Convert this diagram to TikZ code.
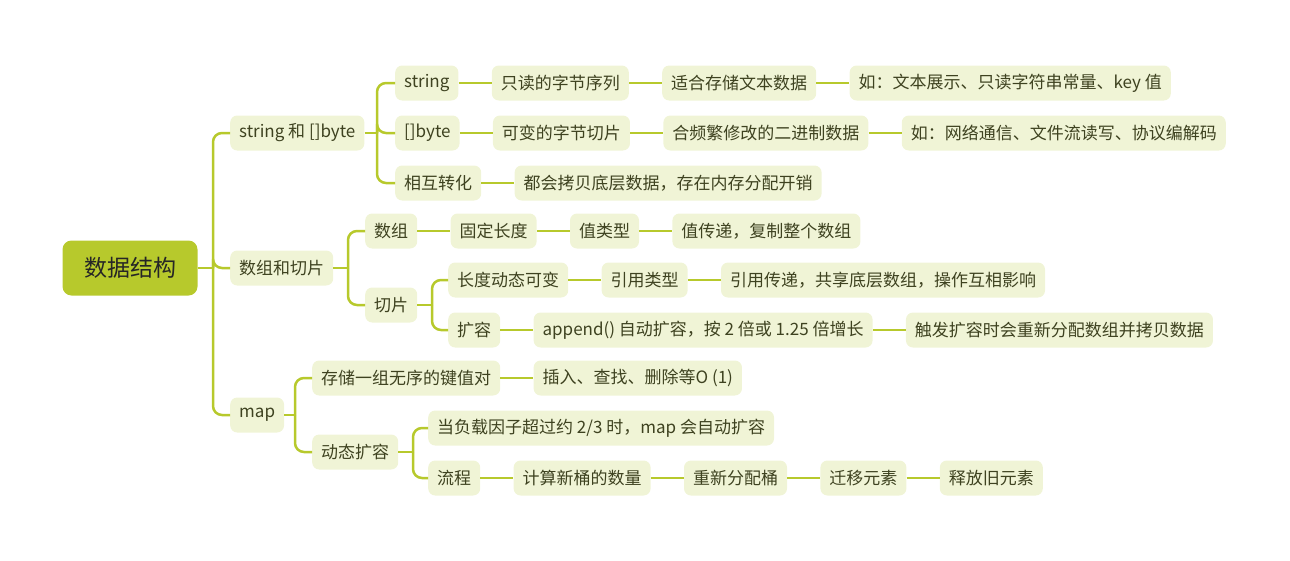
\documentclass[tikz,border=0pt]{standalone}
\usepackage{fontspec}
\setmainfont{Noto Sans CJK SC}
\usetikzlibrary{positioning}
\definecolor{linec}{HTML}{B7C92C}
\definecolor{nodef}{HTML}{F0F4D6}
\definecolor{txt}{HTML}{3E4220}
\begin{document}
\begin{tikzpicture}[x=1pt,y=-1pt,
  box/.style={fill=nodef, rounded corners=7pt, minimum height=35pt, inner xsep=9pt, inner ysep=0pt, text=txt, font=\fontsize{17}{20}\selectfont, anchor=west},
  rootbox/.style={fill=linec, rounded corners=9pt, minimum height=55pt, minimum width=135pt, text=black!85, font=\fontsize{23}{27}\selectfont},
  conn/.style={draw=linec, line width=2.5pt},
  br/.style={conn, rounded corners=9pt},
  node distance=33pt]
\useasboundingbox (0,0) rectangle (1290,560);
% root
\node[rootbox] (root) at (130,268) {数据结构};
% level 1
\node[box] (a1) at (230,133) {string 和 []byte};
\node[box] (a2) at (230,268) {数组和切片};
\node[box] (a3) at (230,415) {map};
% string group
\node[box] (b1) at (395,83) {string};
\node[box] (b2) at (395,133) {[]byte};
\node[box] (b3) at (395,183) {相互转化};
\node[box, right=of b1] (c1) {只读的字节序列};
\node[box, right=of c1] (d1) {适合存储文本数据};
\node[box, right=of d1] (e1) {如：文本展示、只读字符串常量、key 值};
\node[box, right=of b2] (c2) {可变的字节切片};
\node[box, right=of c2] (d2) {合频繁修改的二进制数据};
\node[box, right=of d2] (e2) {如：网络通信、文件流读写、协议编解码};
\node[box, right=of b3] (c3) {都会拷贝底层数据，存在内存分配开销};
% array group
\node[box] (f1) at (365,231) {数组};
\node[box] (f2) at (365,305) {切片};
\node[box, right=of f1] (g1) {固定长度};
\node[box, right=of g1] (g2) {值类型};
\node[box, right=of g2] (g3) {值传递，复制整个数组};
\node[box] (h1) at (448,280) {长度动态可变};
\node[box] (h2) at (448,330) {扩容};
\node[box, right=of h1] (i1) {引用类型};
\node[box, right=of i1] (i2) {引用传递，共享底层数组，操作互相影响};
\node[box, right=of h2] (j1) {append() 自动扩容，按 2 倍或 1.25 倍增长};
\node[box, right=of j1] (j2) {触发扩容时会重新分配数组并拷贝数据};
% map group
\node[box] (k1) at (312,378) {存储一组无序的键值对};
\node[box] (k2) at (312,452) {动态扩容};
\node[box, right=of k1] (l1) {插入、查找、删除等O (1)};
\node[box] (m1) at (428,428) {当负载因子超过约 2/3 时，map 会自动扩容};
\node[box] (m2) at (428,478) {流程};
\node[box, right=of m2] (n1) {计算新桶的数量};
\node[box, right=of n1] (n2) {重新分配桶};
\node[box, right=of n2] (n3) {迁移元素};
\node[box, right=of n3] (n4) {释放旧元素};
% trunk coordinates
\coordinate (t0) at (213,268);
\coordinate (t1) at (377,133);
\coordinate (t2) at (348,268);
\coordinate (t3) at (432,305);
\coordinate (t4) at (295,415);
\coordinate (t5) at (413,452);
% connectors
\draw[conn] (root.east) -- (t0);
\foreach \c in {a1,a2,a3} \draw[br] (t0) |- (\c.west);
\draw[conn] (a1.east) -- (t1);
\foreach \c in {b1,b2,b3} \draw[br] (t1) |- (\c.west);
\draw[conn] (a2.east) -- (t2);
\foreach \c in {f1,f2} \draw[br] (t2) |- (\c.west);
\draw[conn] (f2.east) -- (t3);
\foreach \c in {h1,h2} \draw[br] (t3) |- (\c.west);
\draw[conn] (a3.east) -- (t4);
\foreach \c in {k1,k2} \draw[br] (t4) |- (\c.west);
\draw[conn] (k2.east) -- (t5);
\foreach \c in {m1,m2} \draw[br] (t5) |- (\c.west);
% chains
\draw[conn] (b1) -- (c1);
\draw[conn] (c1) -- (d1);
\draw[conn] (d1) -- (e1);
\draw[conn] (b2) -- (c2);
\draw[conn] (c2) -- (d2);
\draw[conn] (d2) -- (e2);
\draw[conn] (b3) -- (c3);
\draw[conn] (f1) -- (g1);
\draw[conn] (g1) -- (g2);
\draw[conn] (g2) -- (g3);
\draw[conn] (h1) -- (i1);
\draw[conn] (i1) -- (i2);
\draw[conn] (h2) -- (j1);
\draw[conn] (j1) -- (j2);
\draw[conn] (k1) -- (l1);
\draw[conn] (m2) -- (n1);
\draw[conn] (n1) -- (n2);
\draw[conn] (n2) -- (n3);
\draw[conn] (n3) -- (n4);
\end{tikzpicture}
\end{document}
